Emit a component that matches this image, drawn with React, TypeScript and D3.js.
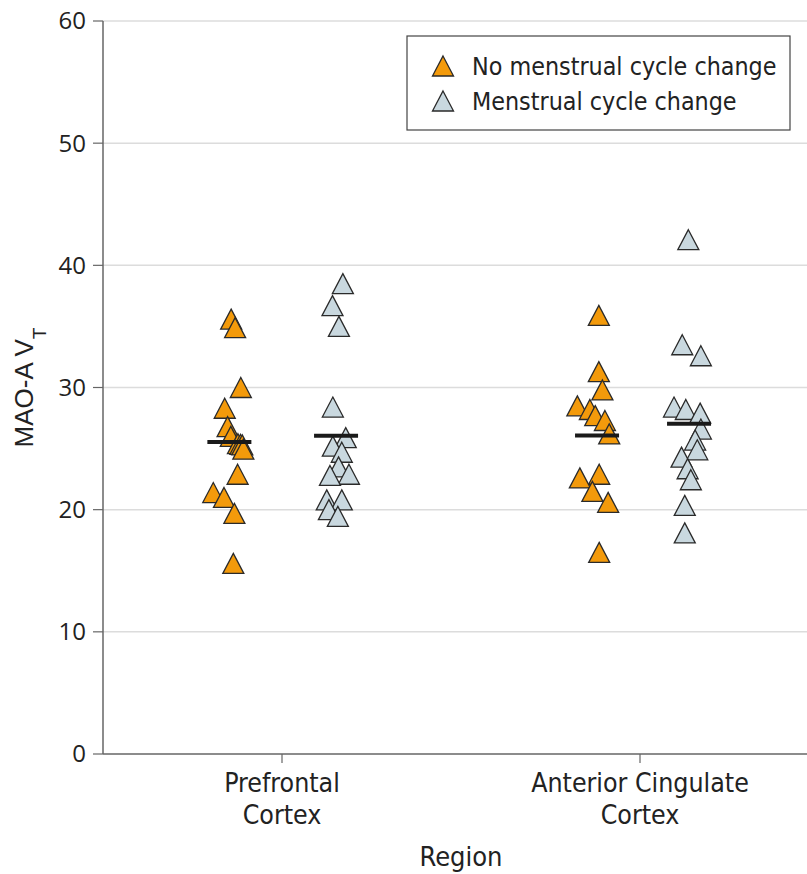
import React from "react";
import * as d3 from "d3";

// values, sorted high to low so the lower marks sit on top
const pfcNoChange = [35.6, 34.9, 30.0, 28.3, 26.8, 26.0, 25.4, 25.35, 25.3, 24.95, 22.9, 21.4, 21.0, 19.7, 15.6];
const pfcNoChangeX = [0.858, 0.869, 0.885, 0.84, 0.848, 0.857, 0.877, 0.884, 0.889, 0.892, 0.876, 0.808, 0.838, 0.867, 0.864];
const pfcChange = [38.5, 36.7, 35.0, 28.4, 25.9, 25.2, 24.7, 23.5, 22.9, 22.8, 20.8, 20.8, 20.0, 19.45];
const pfcChangeX = [1.17, 1.141, 1.159, 1.142, 1.178, 1.142, 1.167, 1.158, 1.187, 1.134, 1.125, 1.167, 1.131, 1.156];
const accNoChange = [35.9, 31.3, 29.8, 28.5, 28.2, 27.7, 27.3, 26.2, 22.9, 22.6, 21.5, 20.6, 16.5];
const accNoChangeX = [1.885, 1.885, 1.895, 1.825, 1.86, 1.875, 1.902, 1.914, 1.886, 1.832, 1.867, 1.911, 1.886];
const accChange = [42.1, 33.5, 32.6, 28.4, 28.2, 27.9, 26.6, 25.7, 24.9, 24.3, 23.35, 22.45, 20.35, 18.1];
const accChangeX = [2.135, 2.118, 2.17, 2.095, 2.128, 2.168, 2.17, 2.154, 2.16, 2.116, 2.133, 2.142, 2.125, 2.125];

const regions = [["Prefrontal", "Cortex"], ["Anterior Cingulate", "Cortex"]];
const regionPos = [1, 2];
const groupCenters = [0.853, 1.151, 1.88, 2.137];
const seriesNames = ["No menstrual cycle change", "Menstrual cycle change"];
const yTicks = [0, 10, 20, 30, 40, 50, 60];

const colors = ["#F39A0B", "#C9D8DF"];
const condensed = "'DejaVu Sans Condensed', 'Liberation Sans Narrow', 'Roboto', sans-serif";
const tickFont = "'Open Sans', 'Liberation Sans', sans-serif";

const groups = [
  { values: pfcNoChange, xs: pfcNoChangeX, s: 0, c: groupCenters[0] },
  { values: pfcChange, xs: pfcChangeX, s: 1, c: groupCenters[1] },
  { values: accNoChange, xs: accNoChangeX, s: 0, c: groupCenters[2] },
  { values: accChange, xs: accChangeX, s: 1, c: groupCenters[3] },
];

const tri = (cx: number, cy: number) =>
  `M${cx},${cy - 10}L${cx + 10.5},${cy + 10}L${cx - 10.5},${cy + 10}Z`;

export default function App() {
  const width = 807, height = 874;
  const left = 103, right = 819, top = 21, bottom = 754;

  const x = d3.scaleLinear().domain([0.5, 2.5]).range([left, right]);
  const y = d3.scaleLinear().domain([0, 60]).range([bottom, top]);

  return (
    <svg width={width} height={height} style={{ position: "absolute", left: 0, top: 0, background: "#fff" }}>
      {yTicks.filter((t) => t > 0).map((t) => (
        <line key={t} x1={left} x2={width} y1={y(t)} y2={y(t)} stroke="#dcdcdc" strokeWidth={1.5} />
      ))}
      <line x1={left} x2={left} y1={top} y2={bottom} stroke="#666" strokeWidth={1.5} />
      <line x1={left} x2={width} y1={bottom} y2={bottom} stroke="#666" strokeWidth={1.5} />
      {yTicks.map((t) => (
        <g key={t}>
          <line x1={left - 10} x2={left} y1={y(t)} y2={y(t)} stroke="#666" strokeWidth={1.2} />
          <text x={left - 17} y={y(t)} dy="0.35em" textAnchor="end" fontFamily={tickFont} fontSize={24} fill="#222">
            {t}
          </text>
        </g>
      ))}
      {regions.map((r, i) => (
        <g key={i}>
          <line x1={x(regionPos[i])} x2={x(regionPos[i])} y1={bottom} y2={bottom + 9} stroke="#666" strokeWidth={1.2} />
          {r.map((line, j) => (
            <text key={j} x={x(regionPos[i])} y={792 + j * 32} textAnchor="middle" fontFamily={condensed} fontSize={26.5} fill="#222">
              {line}
            </text>
          ))}
        </g>
      ))}
      <text x={(left + right) / 2} y={866} textAnchor="middle" fontFamily={condensed} fontSize={27} fill="#222">
        Region
      </text>
      <text transform={`translate(33, ${(top + bottom) / 2}) rotate(-90)`} textAnchor="middle" fontFamily="'Liberation Sans', Arial, sans-serif" fontSize={26} fill="#222">
        MAO-A V<tspan fontSize={19} dy={13}>T</tspan>
      </text>

      {groups.map((g, gi) => (
        <g key={gi}>
          {g.values.map((v, i) => (
            <path key={i} d={tri(x(g.xs[i]), y(v))} fill={colors[g.s]} stroke="#2a2a2a" strokeWidth={1.3} strokeLinejoin="miter" />
          ))}
        </g>
      ))}
      {groups.map((g, gi) => {
        const m = d3.mean(g.values) as number;
        return <line key={gi} x1={x(g.c) - 22} x2={x(g.c) + 22} y1={y(m)} y2={y(m)} stroke="#1a1a1a" strokeWidth={4} />;
      })}

      <rect x={407} y={36} width={383} height={94} fill="#fff" stroke="#444" strokeWidth={1.2} />
      {seriesNames.map((n, i) => (
        <g key={n}>
          <path d={tri(443, 66 + i * 35)} fill={colors[i]} stroke="#2a2a2a" strokeWidth={1.3} />
          <text x={472} y={66 + i * 35} dy="0.35em" fontFamily={condensed} fontSize={24.8} fill="#222">
            {n}
          </text>
        </g>
      ))}
    </svg>
  );
}
